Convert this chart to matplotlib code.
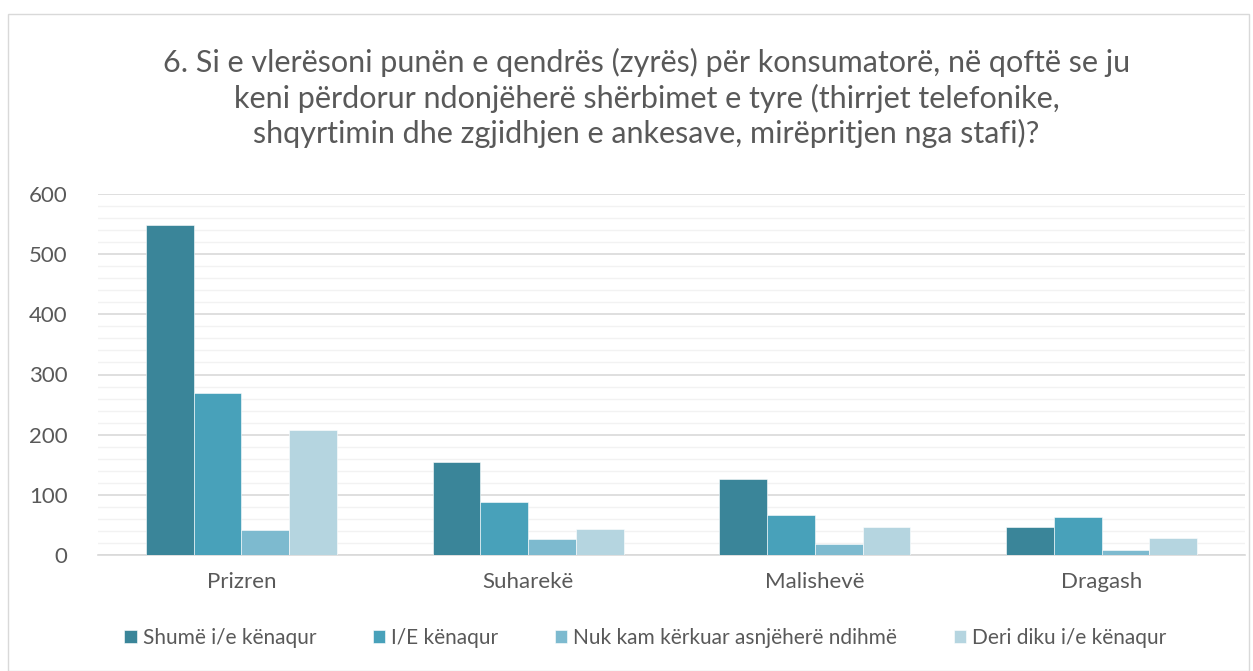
import numpy as np
import matplotlib.pyplot as plt
from matplotlib.patches import Rectangle
from matplotlib.ticker import MultipleLocator

categories = ["Prizren", "Suharekë", "Malishevë", "Dragash"]
series_names = ["Shumë i/e kënaqur", "I/E kënaqur",
                "Nuk kam kërkuar asnjëherë ndihmë", "Deri diku i/e kënaqur"]
shume = [548, 154, 127, 46]
kenaqur = [270, 88, 66, 63]
nuk_kam = [42, 27, 18, 8]
deri_diku = [207, 44, 46, 28]
colors = ["#3A8599", "#48A1BA", "#7DBACF", "#B5D5E0"]

title = ("6. Si e vlerësoni punën e qendrës (zyrës) për konsumatorë, në qoftë se ju\n"
         "keni përdorur ndonjëherë shërbimet e tyre (thirrjet telefonike,\n"
         "shqyrtimin dhe zgjidhjen e ankesave, mirëpritjen nga stafi)?")

plt.rcParams["font.family"] = ["Lato", "DejaVu Sans"]

fig = plt.figure(figsize=(12.53, 6.71), dpi=100)
fig.patches.append(Rectangle((8 / 1253, 0), 1241 / 1253, 1 - 14 / 671,
                             transform=fig.transFigure, fill=False,
                             edgecolor="#D9D9D9", linewidth=1))
ax = fig.add_axes([98 / 1253, 1 - 555 / 671, 1147 / 1253, 361 / 671])

x = np.arange(len(categories))
w = 2 / 3 / 4
for i, (vals, name) in enumerate(zip([shume, kenaqur, nuk_kam, deri_diku], series_names)):
    ax.bar(x + (i - 1.5) * w, vals, width=w, color=colors[i], label=name,
           edgecolor="white", linewidth=0.4, zorder=3)

ax.set_xlim(-0.5, len(categories) - 0.5)
ax.set_ylim(0, 600)
ax.yaxis.set_major_locator(MultipleLocator(100))
ax.yaxis.set_minor_locator(MultipleLocator(20))
ax.grid(axis="y", which="major", color="#D9D9D9", linewidth=1.2, zorder=0)
ax.grid(axis="y", which="minor", color="#F2F2F2", linewidth=1.0, zorder=0)
for s in ["top", "right", "left"]:
    ax.spines[s].set_visible(False)
ax.spines["bottom"].set_color("#D9D9D9")
ax.spines["bottom"].set_linewidth(1.2)
ax.set_xticks(x, categories)
ax.tick_params(axis="both", which="both", length=0, labelsize=16, labelcolor="#595959")
ax.tick_params(axis="x", pad=12)
ax.tick_params(axis="y", pad=22)

fig.text(0.516, 1 - 98 / 671, title, ha="center", va="center", fontsize=22,
         color="#595959", linespacing=1.25)
fig.legend(loc="center", bbox_to_anchor=(0.515, 1 - 638 / 671), ncol=4,
           frameon=False, fontsize=15, handlelength=0.6, handleheight=0.6,
           columnspacing=2.7, handletextpad=0.3, labelcolor="#595959")

fig.savefig("out.png", dpi=100)
